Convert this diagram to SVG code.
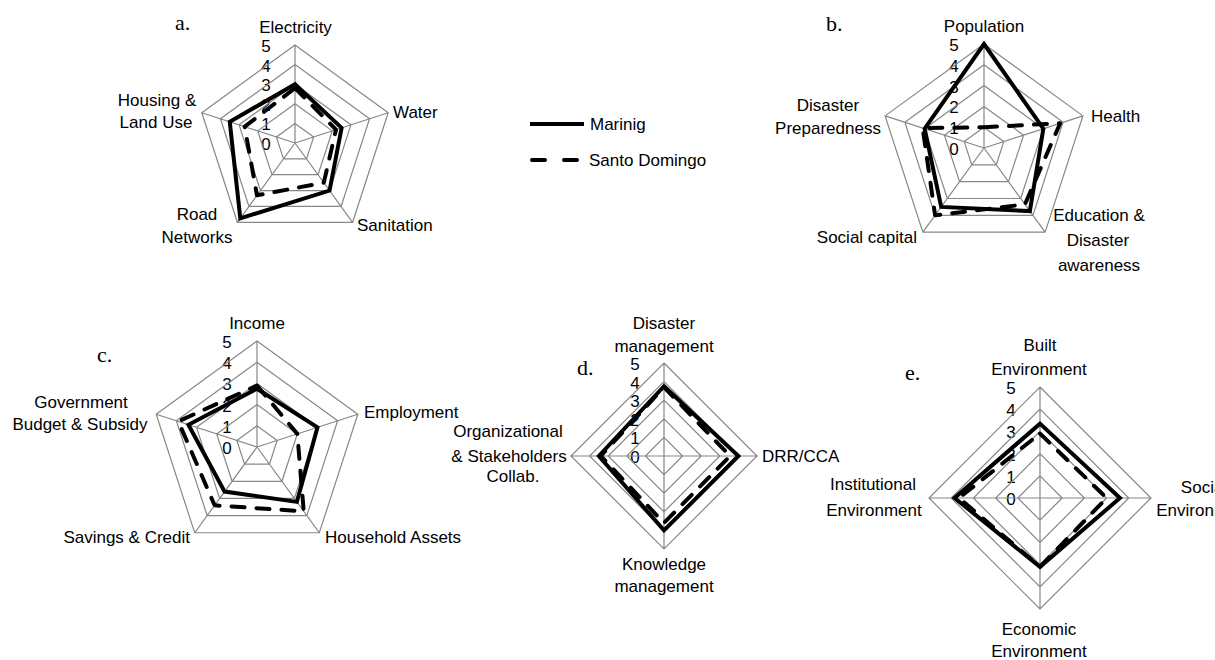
<svg xmlns="http://www.w3.org/2000/svg" xmlns:xlink="http://www.w3.org/1999/xlink" width="1215" height="660" viewBox="0 0 1215 660">
<style>
  .t{font-family:"Liberation Sans",Arial,sans-serif;font-size:17px;fill:#000}
  .m{text-anchor:middle}
  .e{text-anchor:end}
  .p{font-family:"Liberation Serif","Times New Roman",serif;font-size:22px;fill:#000}
  .g{fill:none;stroke:#878787;stroke-width:1.2;vector-effect:non-scaling-stroke}
  .s1{fill:none;stroke:#000;stroke-width:4;stroke-linejoin:miter}
  .s2{fill:none;stroke:#000;stroke-width:4;stroke-linejoin:round;stroke-linecap:round;stroke-dasharray:13 12}
</style>
<defs>
  <path id="pentgrid" class="g" d="M0,-1 L0.9511,-0.309 L0.5878,0.809 L-0.5878,0.809 L-0.9511,-0.309 Z
    M0,-2 L1.9021,-0.618 L1.1756,1.618 L-1.1756,1.618 L-1.9021,-0.618 Z
    M0,-3 L2.8532,-0.9271 L1.7634,2.4271 L-1.7634,2.4271 L-2.8532,-0.9271 Z
    M0,-4 L3.8042,-1.2361 L2.3511,3.2361 L-2.3511,3.2361 L-3.8042,-1.2361 Z
    M0,-5 L4.7553,-1.5451 L2.9389,4.0451 L-2.9389,4.0451 L-4.7553,-1.5451 Z
    M0,0 L0,-5 M0,0 L4.7553,-1.5451 M0,0 L2.9389,4.0451 M0,0 L-2.9389,4.0451 M0,0 L-4.7553,-1.5451"/>
  <path id="diagrid" class="g" d="M0,-1 L1,0 L0,1 L-1,0 Z M0,-2 L2,0 L0,2 L-2,0 Z M0,-3 L3,0 L0,3 L-3,0 Z M0,-4 L4,0 L0,4 L-4,0 Z M0,-5 L5,0 L0,5 L-5,0 Z M0,-5 L0,5 M-5,0 L5,0"/>
</defs>

<!-- Chart a -->
<g id="chart-a">
  <text class="p" x="175" y="30">a.</text>
  <g class="t m">
    <text x="266" y="150">0</text><text x="266" y="130.4">1</text><text x="266" y="110.8">2</text>
    <text x="266" y="91.2">3</text><text x="266" y="71.6">4</text><text x="266" y="52">5</text>
  </g>
  <use xlink:href="#pentgrid" transform="translate(295,143) scale(19.6)"/>
  <polygon class="s2" points="295,88.12 336.01,129.68 323.8,182.64 256.98,195.33 244.67,126.65"/>
  <polygon class="s1" points="295,84.2 341.6,127.86 329.56,190.57 240.28,218.32 229.75,121.8"/>
  <text class="t m" x="295.5" y="33">Electricity</text>
  <text class="t" x="393" y="118">Water</text>
  <text class="t" x="357" y="231">Sanitation</text>
  <text class="t m" x="197" y="220">Road</text>
  <text class="t m" x="197" y="243">Networks</text>
  <text class="t m" x="157" y="106">Housing &amp;</text>
  <text class="t m" x="156" y="128">Land Use</text>
</g>

<!-- Legend -->
<g id="legend">
  <line x1="530" y1="124" x2="584" y2="124" stroke="#000" stroke-width="4"/>
  <text class="t" x="590" y="130">Marinig</text>
  <line x1="532" y1="160" x2="578" y2="160" stroke="#000" stroke-width="4" stroke-linecap="round" stroke-dasharray="13 19"/>
  <text class="t" x="589" y="166">Santo Domingo</text>
</g>

<!-- Chart b -->
<g id="chart-b">
  <text class="p" x="826" y="31">b.</text>
  <g class="t m">
    <text x="954" y="155">0</text><text x="954" y="134.2">1</text><text x="954" y="113.4">2</text>
    <text x="954" y="92.6">3</text><text x="954" y="71.8">4</text><text x="954" y="51">5</text>
  </g>
  <use xlink:href="#pentgrid" transform="translate(984,148) scale(20.8)"/>
  <polygon class="s2" points="984,127.2 1060.16,123.25 1024.96,204.37 935.1,215.31 922.67,128.08"/>
  <polygon class="s1" points="984,44 1043.35,128.72 1029.85,211.1 941.21,206.9 924.65,128.72"/>
  <text class="t m" x="984" y="32">Population</text>
  <text class="t" x="1091" y="122">Health</text>
  <text class="t m" x="1099" y="221">Education &amp;</text>
  <text class="t m" x="1098" y="246">Disaster</text>
  <text class="t m" x="1099" y="271">awareness</text>
  <text class="t e" x="917" y="243">Social capital</text>
  <text class="t m" x="828" y="111">Disaster</text>
  <text class="t m" x="828" y="134">Preparedness</text>
</g>

<!-- Chart c -->
<g id="chart-c">
  <text class="p" x="97" y="362">c.</text>
  <g class="t m">
    <text x="227" y="454">0</text><text x="227" y="432.8">1</text><text x="227" y="411.6">2</text>
    <text x="227" y="390.4">3</text><text x="227" y="369.2">4</text><text x="227" y="348">5</text>
  </g>
  <use xlink:href="#pentgrid" transform="translate(257,447) scale(21.2)"/>
  <polygon class="s2" points="257,385.52 297.33,433.9 303.73,511.32 214.63,505.31 178.36,421.45"/>
  <polygon class="s1" points="257,388.7 317.49,427.35 296.88,501.88 224.6,491.59 188.44,424.73"/>
  <text class="t m" x="257" y="329">Income</text>
  <text class="t" x="364" y="418">Employment</text>
  <text class="t" x="325" y="543">Household Assets</text>
  <text class="t e" x="190" y="543">Savings &amp; Credit</text>
  <text class="t m" x="81" y="408">Government</text>
  <text class="t m" x="80" y="430">Budget &amp; Subsidy</text>
</g>

<!-- Chart d -->
<g id="chart-d">
  <text class="p" x="577" y="375">d.</text>
  <g class="t m">
    <text x="635" y="463">0</text><text x="635" y="444.4">1</text><text x="635" y="425.8">2</text>
    <text x="635" y="407.2">3</text><text x="635" y="388.6">4</text><text x="635" y="370">5</text>
  </g>
  <use xlink:href="#diagrid" transform="translate(664,456) scale(18.6)"/>
  <polygon class="s2" points="664,387.18 730.03,456 664,522.96 600.76,456"/>
  <polygon class="s1" points="664,386.25 738.4,456 664,530.4 598.9,456"/>
  <text class="t m" x="664" y="329">Disaster</text>
  <text class="t m" x="664" y="352">management</text>
  <text class="t" x="762" y="462">DRR/CCA</text>
  <text class="t m" x="664" y="570">Knowledge</text>
  <text class="t m" x="664" y="592">management</text>
  <text class="t m" x="508" y="437">Organizational</text>
  <text class="t m" x="509" y="462">&amp; Stakeholders</text>
  <text class="t m" x="513" y="482">Collab.</text>
</g>

<!-- Chart e -->
<g id="chart-e">
  <text class="p" x="905" y="380">e.</text>
  <g class="t m">
    <text x="1011" y="505">0</text><text x="1011" y="482.8">1</text><text x="1011" y="460.6">2</text>
    <text x="1011" y="438.4">3</text><text x="1011" y="416.2">4</text><text x="1011" y="394">5</text>
  </g>
  <use xlink:href="#diagrid" transform="translate(1040,498) scale(22.2)"/>
  <polygon class="s2" points="1040,433.62 1106.6,498 1040,566.82 958.97,498"/>
  <polygon class="s1" points="1040,423.63 1119.92,498 1040,566.82 954.53,498"/>
  <text class="t m" x="1040" y="351">Built</text>
  <text class="t m" x="1039" y="375">Environment</text>
  <text class="t m" x="1204" y="493">Social</text>
  <text class="t m" x="1204" y="516">Environment</text>
  <text class="t m" x="873" y="490">Institutional</text>
  <text class="t m" x="874" y="516">Environment</text>
  <text class="t m" x="1039" y="635">Economic</text>
  <text class="t m" x="1039" y="657">Environment</text>
</g>
</svg>
